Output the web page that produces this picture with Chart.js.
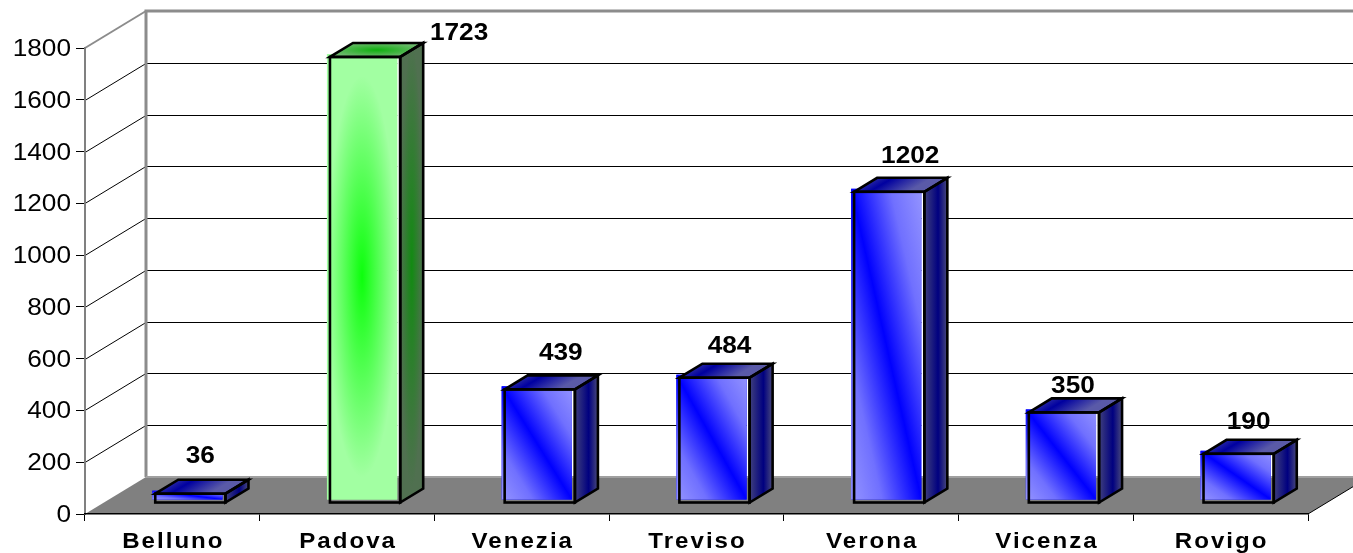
<!DOCTYPE html>
<html>
<head>
<meta charset="utf-8">
<title>Province</title>
<script src="https://cdn.jsdelivr.net/npm/chart.js@4"></script>
<style>
  html, body { margin: 0; padding: 0; background: #fff; overflow: hidden; }
  #wrap { position: relative; width: 1353px; height: 553px; }
</style>
</head>
<body>
<div id="wrap"><canvas id="provinceChart"></canvas></div>
<script>
// --- Chart Data ---
const provinceLabels = ['Belluno', 'Padova', 'Venezia', 'Treviso', 'Verona', 'Vicenza', 'Rovigo'];
const provinceValues = [36, 1723, 439, 484, 1202, 350, 190];
const yTickMax = 1800;
const yTickStep = 200;
const highlightIndex = 1; // Padova is the green one

// --- 3D look ---
const FONT = '"Liberation Sans", Arial, sans-serif';
const wallDx = 61, wallDy = 37;     // depth of the box
const barDx = 18, barDy = -11;      // where the bar outline sits on the floor
const fillDx = 15, fillDy = -14;    // fill is printed slightly off the outline
const sideDx = 23, sideDy = -14;    // depth of one bar
// value labels were moved by hand in the original
const labelNudgeX = [10, 94, 21, 15, 21, 9, 10];
const labelNudgeY = [-39, -25, -37, -33, -37, -27, -33];

function stretchedText(ctx, text, x, y, sx, align, font, spacing) {
  ctx.save();
  ctx.font = font;
  ctx.fillStyle = '#000';
  ctx.textAlign = align;
  ctx.textBaseline = 'alphabetic';
  ctx.letterSpacing = (spacing || 0) + 'px';
  ctx.translate(x, y);
  ctx.scale(sx, 1);
  ctx.fillText(text, 0, 0);
  ctx.restore();
}

function barBox(el) {
  const p = el.getProps(['x', 'y', 'base', 'width'], true);
  return { left: p.x - p.width / 2, right: p.x + p.width / 2, top: p.y, bottom: p.base, width: p.width };
}

function poly(ctx, pts) {
  ctx.beginPath();
  ctx.moveTo(pts[0][0], pts[0][1]);
  for (let i = 1; i < pts.length; i++) ctx.lineTo(pts[i][0], pts[i][1]);
  ctx.closePath();
}

// blue front: light corners bottom-left / top-right, pure blue on the other diagonal
function diagonalGradient(ctx, x, y, w, h) {
  const d = Math.sqrt(w * w + h * h);
  const nx = h / d, ny = -w / d, len = w * h / d;
  const cx = x + w / 2, cy = y + h / 2;
  const g = ctx.createLinearGradient(cx - nx * len, cy - ny * len, cx + nx * len, cy + ny * len);
  g.addColorStop(0, '#9494ff');
  g.addColorStop(0.22, '#7070ff');
  g.addColorStop(0.5, '#0000ff');
  g.addColorStop(0.78, '#7070ff');
  g.addColorStop(1, '#9494ff');
  return g;
}

// green faces: glow from the middle, stretched to the shape of the face
function glow(ctx, pts, x, y, w, h, edge, centre) {
  ctx.save();
  poly(ctx, pts);
  ctx.fillStyle = edge;
  ctx.fill();
  ctx.clip();
  ctx.translate(x + w / 2, y + h / 2);
  ctx.scale(w / 2, h / 2);
  const g = ctx.createRadialGradient(0, 0, 0, 0, 0, 1);
  g.addColorStop(0, centre);
  g.addColorStop(1, edge);
  ctx.fillStyle = g;
  ctx.fillRect(-1, -1, 2, 2);
  ctx.restore();
}

const box3dPlugin = {
  id: 'box3d',
  beforeDraw(chart) {
    const ctx = chart.ctx, a = chart.chartArea, y = chart.scales.y;
    ctx.save();
    // floor
    poly(ctx, [[a.left, a.bottom], [a.left + wallDx, a.bottom - wallDy], [a.right + wallDx, a.bottom - wallDy], [a.right, a.bottom]]);
    ctx.fillStyle = '#808080';
    ctx.fill();
    // grid on the back wall and the left wall
    ctx.strokeStyle = '#000';
    ctx.lineWidth = 1;
    y.ticks.forEach((t) => {
      const py = Math.round(y.getPixelForValue(t.value)) + 0.5;
      if (t.value === 0 || t.value === yTickMax) return;
      ctx.beginPath();
      ctx.moveTo(a.left, py);
      ctx.lineTo(a.left + wallDx, py - wallDy);
      ctx.lineTo(a.right + wallDx, py - wallDy);
      ctx.stroke();
    });
    // wall frame
    ctx.strokeStyle = '#8c8c8c';
    ctx.lineWidth = 2;
    ctx.beginPath();
    ctx.moveTo(a.left, a.top);
    ctx.lineTo(a.left + wallDx, a.top - wallDy);
    ctx.stroke();
    ctx.lineWidth = 3;
    ctx.beginPath();
    ctx.moveTo(a.left + wallDx, a.bottom - wallDy);
    ctx.lineTo(a.left + wallDx, a.top - wallDy);
    ctx.lineTo(a.right + wallDx, a.top - wallDy);
    ctx.stroke();
    ctx.strokeStyle = '#a0a0a0';
    ctx.lineWidth = 2;
    ctx.beginPath();
    ctx.moveTo(a.left + wallDx, a.bottom - wallDy);
    ctx.lineTo(a.right + wallDx, a.bottom - wallDy);
    ctx.stroke();
    ctx.restore();
  },
  afterDraw(chart) {
    const ctx = chart.ctx, a = chart.chartArea;
    const meta = chart.getDatasetMeta(0);

    // right edge of the floor
    ctx.save();
    ctx.strokeStyle = '#000';
    ctx.lineWidth = 1;
    ctx.beginPath();
    ctx.moveTo(a.right, a.bottom);
    ctx.lineTo(a.right + wallDx, a.bottom - wallDy);
    ctx.stroke();
    ctx.restore();

    meta.data.forEach((el, i) => {
      const b = barBox(el);
      const green = i === highlightIndex;
      const fx = b.left + fillDx, fy = b.top + fillDy, fw = b.width, fh = b.bottom - b.top;
      const l = b.left + barDx, r = b.right + barDx, t = b.top + barDy, bt = b.bottom + barDy;
      const side = [[r, t], [r + sideDx, t + sideDy], [r + sideDx, bt + sideDy], [r, bt]];
      const top = [[l, t], [l + sideDx, t + sideDy], [r + sideDx, t + sideDy], [r, t]];

      ctx.save();
      if (green) {
        glow(ctx, [[fx, fy], [fx + fw, fy], [fx + fw, fy + fh], [fx, fy + fh]], fx, fy + fh * 0.05, fw, fh * 0.9, '#a2ffa2', '#0cff0c');
        glow(ctx, side, r, t + sideDy, sideDx, bt - t, '#507050', '#128a12');
        glow(ctx, top, l, t + sideDy, r + sideDx - l, -sideDy, '#6cb86c', '#0eb00e');
      } else {
        ctx.fillStyle = diagonalGradient(ctx, fx, fy, fw, fh);
        ctx.fillRect(fx, fy, fw, fh);

        let g = ctx.createLinearGradient(r, 0, r + sideDx, 0);
        g.addColorStop(0, '#40407c');
        g.addColorStop(0.6, '#000080');
        g.addColorStop(1, '#4a4a7c');
        poly(ctx, side);
        ctx.fillStyle = g;
        ctx.fill();

        g = ctx.createLinearGradient(l, t + sideDy, l + 20, t + 20);
        g.addColorStop(0, '#5a5aa8');
        g.addColorStop(0.5, '#0000a0');
        g.addColorStop(1, '#5a5aa8');
        poly(ctx, top);
        ctx.fillStyle = g;
        ctx.fill();
      }

      // outlines
      ctx.strokeStyle = '#000';
      ctx.lineWidth = 2.6;
      ctx.lineJoin = 'miter';
      ctx.strokeRect(l, t, r - l, bt - t);
      poly(ctx, side);
      ctx.stroke();
      poly(ctx, top);
      ctx.stroke();
      ctx.restore();

      // value label
      stretchedText(ctx, String(provinceValues[i]), (l + r) / 2 + labelNudgeX[i], t + labelNudgeY[i] + 8, 1.14, 'center', 'bold 23px ' + FONT);
    });

    // tick labels
    const yScale = chart.scales.y, xScale = chart.scales.x;
    yScale.ticks.forEach((t) => {
      stretchedText(ctx, String(t.value), 71, yScale.getPixelForValue(t.value) + 8, 1.14, 'right', '23px ' + FONT);
    });
    provinceLabels.forEach((name, i) => {
      stretchedText(ctx, name, xScale.getPixelForValue(i) + 1, 548, 1.12, 'center', 'bold 21.5px ' + FONT, 1.8);
    });
  },
  beforeDatasetsDraw(chart) {
    // strip between fill and outline hides the grid above the floor
    const ctx = chart.ctx, a = chart.chartArea;
    const floorY = a.bottom - wallDy;
    chart.getDatasetMeta(0).data.forEach((el) => {
      const b = barBox(el);
      const t = b.top + barDy;
      if (t < floorY) {
        ctx.fillStyle = '#fff';
        ctx.fillRect(b.right + fillDx, t, barDx - fillDx + 1, floorY - 1 - t);
      }
    });
  },
  beforeDatasetDraw(chart) {
    chart.ctx.save();
    chart.ctx.translate(fillDx, fillDy);
  },
  afterDatasetDraw(chart) {
    chart.ctx.restore();
  }
};

const provinceCtx = document.getElementById('provinceChart').getContext('2d');
const provinceChart = new Chart(provinceCtx, {
  type: 'bar',
  data: {
    labels: provinceLabels,
    datasets: [{
      data: provinceValues,
      backgroundColor: provinceLabels.map((_, i) => i === highlightIndex ? '#a2ffa2' : '#0000ff'),
      borderWidth: 0,
      barPercentage: 0.402,
      categoryPercentage: 1,
      clip: false
    }]
  },
  options: {
    responsive: true,
    maintainAspectRatio: false,
    animation: false,
    layout: { padding: { left: 0, top: 48, right: 45, bottom: 0 } },
    plugins: {
      title: { display: false },
      legend: { display: false },
      tooltip: { enabled: false }
    },
    scales: {
      y: {
        min: 0,
        max: yTickMax,
        ticks: { display: false, stepSize: yTickStep },
        grid: { drawOnChartArea: false, tickLength: 9, tickColor: '#000', tickWidth: 1 },
        border: { color: '#808080', width: 2 },
        afterFit(scale) { scale.width = 85; }
      },
      x: {
        ticks: { display: false },
        grid: { drawOnChartArea: false, tickLength: 7, tickColor: '#000', tickWidth: 1 },
        border: { color: '#000', width: 1.5 },
        afterFit(scale) { scale.height = 39; }
      }
    }
  },
  plugins: [box3dPlugin]
});
</script>
</body>
</html>
